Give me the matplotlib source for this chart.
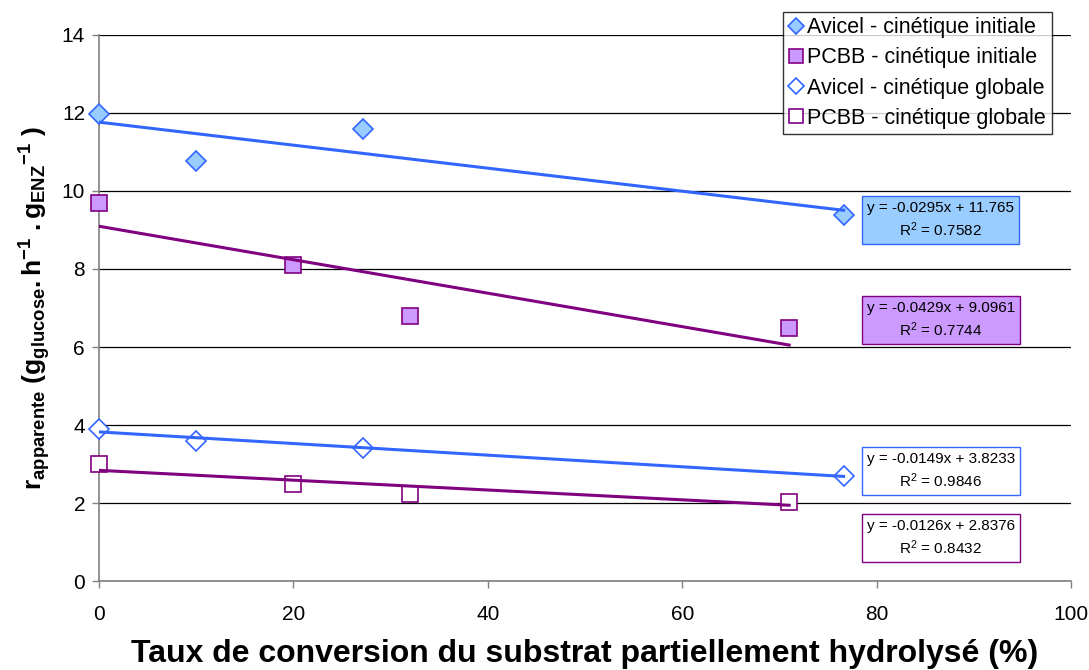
import numpy as np
import matplotlib
matplotlib.use("Agg")
import matplotlib.pyplot as plt

plt.rcParams['font.family'] = ['Liberation Sans', 'DejaVu Sans']
plt.rcParams['mathtext.fontset'] = 'custom'
plt.rcParams['mathtext.rm'] = 'Liberation Sans'
plt.rcParams['mathtext.bf'] = 'Liberation Sans:bold'
plt.rcParams['mathtext.it'] = 'Liberation Sans:italic'

# data
x_avicel = [0, 10, 27.2, 76.6]
y_avicel_init = [11.97, 10.77, 11.6, 9.38]
y_avicel_glob = [3.9, 3.6, 3.4, 2.68]

x_pcbb = [0, 20, 32, 71]
y_pcbb_init = [9.7, 8.1, 6.8, 6.5]
y_pcbb_glob = [3.0, 2.5, 2.23, 2.03]

# trendline coefficients (slope, intercept, R2) as printed on the chart
fit_avicel_init = (-0.0295, 11.765, 0.7582)
fit_pcbb_init = (-0.0429, 9.0961, 0.7744)
fit_avicel_glob = (-0.0149, 3.8233, 0.9846)
fit_pcbb_glob = (-0.0126, 2.8376, 0.8432)

labels = ["Avicel - cinétique initiale", "PCBB - cinétique initiale",
          "Avicel - cinétique globale", "PCBB - cinétique globale"]

blue = "#3366FF"
blue_fill = "#99CCFF"
purple = "#800080"
purple_fill = "#CC99FF"

fig = plt.figure(figsize=(10.89, 6.70), dpi=100)
ax = fig.add_axes([0.0909, 0.1328, 0.8926, 0.815])

series = [
    (x_avicel, y_avicel_init, fit_avicel_init, "D", blue, blue_fill, 10),
    (x_pcbb, y_pcbb_init, fit_pcbb_init, "s", purple, purple_fill, 11.5),
    (x_avicel, y_avicel_glob, fit_avicel_glob, "D", blue, "white", 10),
    (x_pcbb, y_pcbb_glob, fit_pcbb_glob, "s", purple, "white", 11.5),
]

for (xs, ys, fit, mk, ec, fc, ms), lab in zip(series, labels):
    ax.plot(xs, ys, linestyle="none", marker=mk, markersize=ms,
            markerfacecolor=fc, markeredgecolor=ec, markeredgewidth=1.2,
            label=lab, zorder=3, clip_on=False)
    xl = np.array([0, max(xs)])
    ax.plot(xl, fit[0] * xl + fit[1], color=ec, linewidth=2.2, zorder=4)

# equation boxes
boxes = [
    (fit_avicel_init, 9.26, blue, blue_fill),
    (fit_pcbb_init, 6.69, purple, purple_fill),
    (fit_avicel_glob, 2.82, blue, "white"),
    (fit_pcbb_glob, 1.10, purple, "white"),
]
for fit, yy, ec, fc in boxes:
    txt = "y = %.4gx + %s\nR$^2$ = %.4f" % (fit[0], ("%g" % fit[1]), fit[2])
    ax.text(0.866, yy, txt, transform=ax.get_yaxis_transform(),
            ha="center", va="center", fontsize=11, linespacing=1.35,
            bbox=dict(boxstyle="square,pad=0.32", facecolor=fc, edgecolor=ec, linewidth=1))

ax.set_xlim(0, 100)
ax.set_ylim(0, 14)
ax.set_xticks(np.arange(0, 101, 20))
ax.set_yticks(np.arange(0, 15, 2))
ax.yaxis.grid(True, color="black", linewidth=0.9)
ax.set_axisbelow(True)
for s in ["top", "right"]:
    ax.spines[s].set_visible(False)
for s in ["left", "bottom"]:
    ax.spines[s].set_color("#808080")
    ax.spines[s].set_linewidth(1.2)
ax.tick_params(axis="both", colors="#808080", labelcolor="black", labelsize=15,
               length=5, width=1)
ax.tick_params(axis="x", pad=12)
ax.tick_params(axis="y", pad=5)

ax.set_xlabel("Taux de conversion du substrat partiellement hydrolysé (%)",
              fontsize=23, fontweight="bold", labelpad=11)
ax.set_ylabel(r"$\mathbf{r_{apparente}\ (g_{glucose}.h^{-1}\ .{g_{ENZ}}^{-1}\ )}$",
              fontsize=19, labelpad=6)

leg = ax.legend(loc="upper right", bbox_to_anchor=(0.98, 1.042), fontsize=15.5,
                frameon=True, fancybox=False, edgecolor="black", borderpad=0.25,
                handlelength=0.7, handletextpad=0.2, labelspacing=0.42,
                borderaxespad=0, markerscale=0.85)
leg.get_frame().set_linewidth(1)
leg.set_zorder(5)

fig.savefig("out.png", dpi=100)
